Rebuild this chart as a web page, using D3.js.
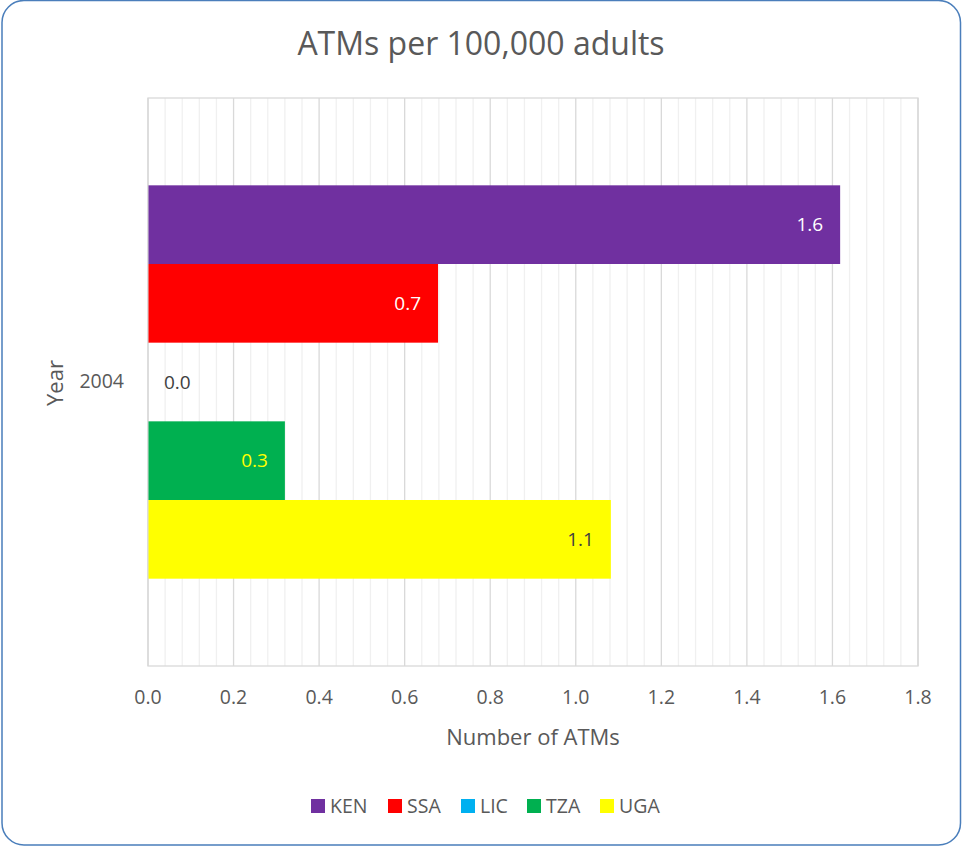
<!DOCTYPE html>
<html lang="en">
<head>
    <meta charset="UTF-8">
    <title>ATMs per 100,000 adults</title>
    <script src="https://d3js.org/d3.v7.min.js"></script>
    <style>
        body { margin: 0; background: #fff; }
        svg { display: block; font-family: "Open Sans", sans-serif; }
    </style>
</head>
<body>
    <script>
        const categories = ["2004"];
        const seriesNames = ["KEN", "SSA", "LIC", "TZA", "UGA"];
        const seriesValues = [1.618, 0.678, 0.0, 0.32, 1.082];
        const seriesColors = ["#7030a0", "#ff0000", "#00b0f0", "#00b050", "#ffff00"];
        const labelColors = ["#ffffff", "#ffffff", "#404040", "#ffff00", "#404040"];
        const xTicks = [0, 0.2, 0.4, 0.6, 0.8, 1.0, 1.2, 1.4, 1.6, 1.8];

        const W = 962, H = 847;
        const plot = { left: 148, right: 918, top: 98, bottom: 666 };

        const svg = d3.select("body").append("svg")
            .attr("width", W)
            .attr("height", H);

        // chart frame
        svg.append("rect")
            .attr("x", 2).attr("y", 0.5)
            .attr("width", 958.5).attr("height", 844.5)
            .attr("rx", 22).attr("ry", 22)
            .attr("fill", "#fff")
            .attr("stroke", "#4a7ebb")
            .attr("stroke-width", 1.5);

        const x = d3.scaleLinear().domain([0, 1.8]).range([plot.left, plot.right]);
        const yCat = d3.scaleBand().domain(categories).range([plot.top, plot.bottom]).paddingInner(0).paddingOuter(0);
        const bandH = yCat.bandwidth();
        const barH = bandH / 7.22;
        const groupTop = yCat("2004") + (bandH - barH * seriesNames.length) / 2;
        const ySeries = d3.scaleBand().domain(seriesNames)
            .range([groupTop, groupTop + barH * seriesNames.length]);

        // minor gridlines
        const minor = d3.range(0, 1.8001, 0.04).filter(v => Math.abs(v / 0.2 - Math.round(v / 0.2)) > 1e-6);
        svg.append("g").selectAll("line").data(minor).enter().append("line")
            .attr("x1", d => x(d)).attr("x2", d => x(d))
            .attr("y1", plot.top).attr("y2", plot.bottom)
            .attr("stroke", "#f0f0f0").attr("stroke-width", 1.3);

        // major gridlines
        svg.append("g").selectAll("line").data(xTicks).enter().append("line")
            .attr("x1", d => x(d)).attr("x2", d => x(d))
            .attr("y1", plot.top).attr("y2", plot.bottom)
            .attr("stroke", "#d9d9d9").attr("stroke-width", 1.3);

        // plot area border
        svg.append("rect")
            .attr("x", plot.left).attr("y", plot.top)
            .attr("width", plot.right - plot.left).attr("height", plot.bottom - plot.top)
            .attr("fill", "none").attr("stroke", "#d9d9d9").attr("stroke-width", 1.3);

        const data = seriesNames.map((s, i) => ({ name: s, value: seriesValues[i], color: seriesColors[i], lc: labelColors[i] }));

        // bars
        svg.append("g").selectAll("rect").data(data).enter().append("rect")
            .attr("x", x(0) + 0.5)
            .attr("y", d => ySeries(d.name))
            .attr("width", d => Math.max(0, x(d.value) - x(0) - 0.5))
            .attr("height", ySeries.bandwidth())
            .attr("fill", d => d.color);

        // data labels
        svg.append("g").selectAll("text").data(data).enter().append("text")
            .attr("x", d => d.value > 0.05 ? x(d.value) - 17 : x(0) + 16)
            .attr("y", d => ySeries(d.name) + ySeries.bandwidth() / 2)
            .attr("dy", "0.35em")
            .attr("text-anchor", d => d.value > 0.05 ? "end" : "start")
            .attr("font-size", 19)
            .attr("fill", d => d.lc)
            .text(d => d.value.toFixed(1));

        // x axis tick labels
        svg.append("g").selectAll("text").data(xTicks).enter().append("text")
            .attr("x", d => x(d))
            .attr("y", 697)
            .attr("dy", "0.35em")
            .attr("text-anchor", "middle")
            .attr("font-size", 19.5)
            .attr("fill", "#595959")
            .text(d => d.toFixed(1));

        // category label
        svg.append("g").selectAll("text").data(categories).enter().append("text")
            .attr("x", 124)
            .attr("y", d => yCat(d) + bandH / 2 - 1)
            .attr("dy", "0.35em")
            .attr("text-anchor", "end")
            .attr("font-size", 19.5)
            .attr("fill", "#595959")
            .text(d => d);

        // title
        svg.append("text")
            .attr("x", 481).attr("y", 44)
            .attr("dy", "0.35em")
            .attr("text-anchor", "middle")
            .attr("font-size", 32)
            .attr("fill", "#595959")
            .text("ATMs per 100,000 adults");

        // axis titles
        svg.append("text")
            .attr("x", 533).attr("y", 737)
            .attr("dy", "0.35em")
            .attr("text-anchor", "middle")
            .attr("font-size", 22)
            .attr("fill", "#595959")
            .text("Number of ATMs");

        svg.append("text")
            .attr("transform", "translate(55,383) rotate(-90)")
            .attr("dy", "0.35em")
            .attr("text-anchor", "middle")
            .attr("font-size", 22)
            .attr("fill", "#595959")
            .text("Year");

        // legend
        const legendX = [311, 388, 461, 527, 600];
        const legend = svg.append("g").selectAll("g").data(data).enter().append("g")
            .attr("transform", (d, i) => `translate(${legendX[i]},806)`);
        legend.append("rect")
            .attr("x", 0).attr("y", -7)
            .attr("width", 14).attr("height", 14)
            .attr("fill", d => d.color);
        legend.append("text")
            .attr("x", 19).attr("y", 0)
            .attr("dy", "0.35em")
            .attr("font-size", 19.5)
            .attr("fill", "#595959")
            .text(d => d.name);
    </script>
</body>
</html>
